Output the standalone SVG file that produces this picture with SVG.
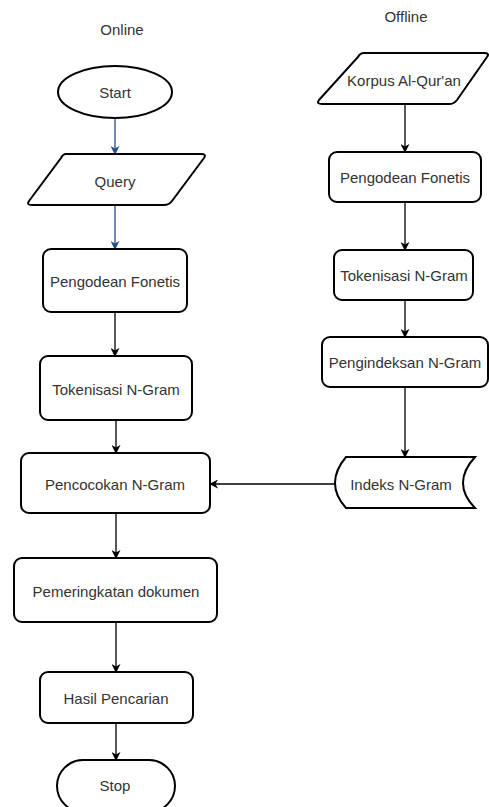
<svg xmlns="http://www.w3.org/2000/svg" width="489" height="807" viewBox="0 0 489 807">
<defs>
<marker id="ab" viewBox="0 0 10 10" refX="9" refY="5" markerWidth="9" markerHeight="9" markerUnits="userSpaceOnUse" orient="auto"><path d="M0,0 L10,5 L0,10 L3,5 z" fill="#000"/></marker>
<marker id="abl" viewBox="0 0 10 10" refX="9" refY="5" markerWidth="9" markerHeight="9" markerUnits="userSpaceOnUse" orient="auto"><path d="M0,0 L10,5 L0,10 L3,5 z" fill="#1f4e8c"/></marker>
<style>
.s{fill:#fff;stroke:#000;stroke-width:2}
.t{font-family:"Liberation Sans",Arial,sans-serif;font-size:15px;fill:#333;text-anchor:middle;dominant-baseline:central}
.c{fill:none;stroke:#000;stroke-width:1.3;marker-end:url(#ab)}
.cb{fill:none;stroke:#1f4e8c;stroke-width:1.3;marker-end:url(#abl)}
</style>
</defs>
<rect width="489" height="807" fill="#fff"/>
<text class="t" x="122" y="29">Online</text>
<text class="t" x="406" y="16">Offline</text>
<g id="connectors">
<path class="cb" d="M115,118 V154"/>
<path class="cb" d="M115,205 V249"/>
<path class="c" d="M115,312 V356"/>
<path class="c" d="M116,420 V453"/>
<path class="c" d="M116,513 V558"/>
<path class="c" d="M116,622 V672"/>
<path class="c" d="M116,723 V760"/>
<path class="c" d="M405,104 V152"/>
<path class="c" d="M405,202 V250"/>
<path class="c" d="M405,300 V337"/>
<path class="c" d="M405,387 V457"/>
<path class="c" d="M335,484 H210"/>
</g>
<g id="start"><ellipse class="s" cx="115" cy="92" rx="57" ry="26"/><text class="t" x="115" y="92">Start</text></g>
<g id="query"><path class="s" d="M66,154 H201 Q207,154 204,158 L172,201 Q169,205 164,205 H32 Q26,205 29,201 L61,158 Q63,154 66,154 Z"/><text class="t" x="115" y="181">Query</text></g>
<g id="pengodean-online"><rect class="s" x="43" y="249" width="144" height="63" rx="8"/><text class="t" x="115" y="281">Pengodean Fonetis</text></g>
<g id="tokenisasi-online"><rect class="s" x="40" y="356" width="152" height="64" rx="8"/><text class="t" x="116" y="389">Tokenisasi N-Gram</text></g>
<g id="pencocokan"><rect class="s" x="21" y="453" width="189" height="60" rx="8"/><text class="t" x="115" y="484">Pencocokan N-Gram</text></g>
<g id="pemeringkatan"><rect class="s" x="14" y="558" width="203" height="64" rx="8"/><text class="t" x="116" y="591">Pemeringkatan dokumen</text></g>
<g id="hasil"><rect class="s" x="40" y="672" width="153" height="51" rx="8"/><text class="t" x="116" y="698">Hasil Pencarian</text></g>
<g id="stop"><rect class="s" x="57" y="760" width="118" height="52" rx="26"/><text class="t" x="115" y="785">Stop</text></g>
<g id="korpus"><path class="s" d="M364,53 H484 Q490,53 487,57 L457,100 Q454,104 449,104 H322 Q316,104 319,100 L358,57 Q360,53 364,53 Z"/><text class="t" x="404" y="80">Korpus Al-Qur'an</text></g>
<g id="pengodean-offline"><rect class="s" x="329" y="152" width="152" height="50" rx="8"/><text class="t" x="405" y="177">Pengodean Fonetis</text></g>
<g id="tokenisasi-offline"><rect class="s" x="334" y="250" width="139" height="50" rx="8"/><text class="t" x="404" y="275">Tokenisasi N-Gram</text></g>
<g id="pengindeksan"><rect class="s" x="322" y="337" width="166" height="50" rx="8"/><text class="t" x="405" y="362">Pengindeksan N-Gram</text></g>
<g id="indeks"><path class="s" d="M346,457 H475 Q463,470 463,483 Q463,496 475,508 H346 Q335,496 335,483 Q335,470 346,457 Z"/><text class="t" x="401" y="484">Indeks N-Gram</text></g>
</svg>
